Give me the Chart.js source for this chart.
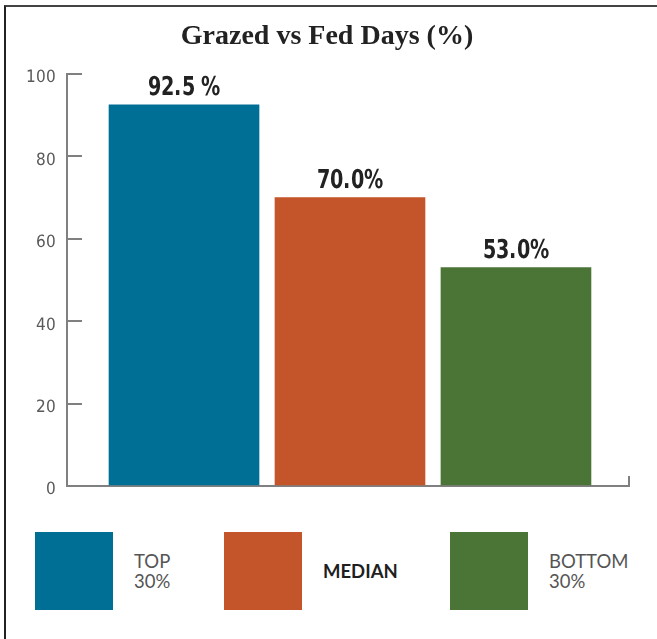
<!DOCTYPE html>
<html>
<head>
<meta charset="utf-8">
<script src="https://cdn.jsdelivr.net/npm/chart.js@4"></script>
<style>
    @font-face {
        font-family: 'NarrowBold';
        src: local('Liberation Sans Narrow Bold'), local('LiberationSansNarrow-Bold'),
             local('DejaVu Sans Condensed Bold'), local('DejaVuSansCondensed-Bold');
    }
    @font-face {
        font-family: 'NarrowReg';
        src: local('Liberation Sans Narrow'), local('LiberationSansNarrow-Regular'),
             local('DejaVu Sans Condensed'), local('DejaVuSansCondensed');
    }
    html, body { margin: 0; padding: 0; background: #fff; }
    body { width: 657px; height: 639px; position: relative; overflow: hidden; }
    .frame {
        position: absolute; left: 4px; top: 5px; right: -10px; bottom: -10px;
        border-top: 2px solid #444; border-left: 2px solid #222;
    }
    #chart { position: absolute; left: 0; top: 0; }
    .legend-item {
        position: absolute; top: 532px; height: 78px;
        display: flex; align-items: center;
        font-family: Lato, sans-serif; font-size: 18.5px; line-height: 20px; color: #555;
    }
    .legend-item .swatch { width: 78px; height: 78px; margin-right: 21px; }
    .legend-item.dark { color: #1f1f1f; font-weight: bold; }
</style>
</head>
<body>
<div class="frame"></div>
<canvas id="chart" width="657" height="530"></canvas>
<div id="legend"></div>
<script>
// Chart data
const categories = ['TOP\n30%', 'MEDIAN', 'BOTTOM\n30%'];
const values = [92.5, 70.0, 53.0];
const valueLabels = ['92.5 %', '70.0%', '53.0%'];
const barColors = ['#006F96', '#C45429', '#4A7536'];
const yTicks = [0, 20, 40, 60, 80, 100];

// legend item positions (px from left)
const legendLefts = [35, 224, 450];

// value labels above the bars (squeezed a bit, the original font is narrow)
const valueLabelPlugin = {
    id: 'valueLabels',
    afterDatasetsDraw(chart) {
        const ctx = chart.ctx;
        const bars = chart.getDatasetMeta(0).data;
        ctx.save();
        ctx.font = '26px NarrowBold, "DejaVu Sans", sans-serif';
        ctx.fillStyle = '#222';
        ctx.textAlign = 'center';
        ctx.textBaseline = 'alphabetic';
        bars.forEach((bar, i) => {
            ctx.save();
            ctx.translate(bar.x, bar.y - 10);
            ctx.scale(0.82, 1);
            ctx.fillText(valueLabels[i], 0, 0);
            ctx.restore();
        });
        ctx.restore();
    }
};

// small upward cap at the right end of the x axis
const axisCapPlugin = {
    id: 'axisCap',
    afterDraw(chart) {
        const x = chart.scales.x;
        const ctx = chart.ctx;
        ctx.save();
        ctx.strokeStyle = '#808080';
        ctx.lineWidth = 2;
        ctx.beginPath();
        ctx.moveTo(x.right, x.top + 1);
        ctx.lineTo(x.right, x.top - 10);
        ctx.stroke();
        ctx.restore();
    }
};

function drawChart() {
    const ctx = document.getElementById('chart').getContext('2d');
    new Chart(ctx, {
        type: 'bar',
        data: {
            datasets: [{
                data: values.map((v, i) => ({ x: i, y: v })),
                backgroundColor: barColors,
                barThickness: 150
            }]
        },
        options: {
            responsive: false,
            animation: false,
            layout: {
                padding: { left: 25, right: 28, top: 0, bottom: 44 }
            },
            plugins: {
                legend: { display: false },
                tooltip: { enabled: false },
                title: {
                    display: true,
                    text: 'Grazed vs Fed Days (%)',
                    color: '#222',
                    font: { family: '"Liberation Serif", serif', size: 28, weight: 'bold' },
                    padding: { top: 20, bottom: 20.4 }
                }
            },
            scales: {
                x: {
                    type: 'linear',
                    offset: false,
                    min: -0.705,
                    max: 2.681,
                    ticks: { display: false },
                    grid: { display: false },
                    border: { display: true, color: '#808080', width: 2 },
                    afterFit(scale) { scale.height = 0; }
                },
                y: {
                    min: 0,
                    max: 100,
                    afterBuildTicks(scale) {
                        scale.ticks = yTicks.map(v => ({ value: v }));
                    },
                    ticks: {
                        color: '#595959',
                        padding: 26,
                        labelOffset: 4,
                        font: { family: 'NarrowReg, "DejaVu Sans", sans-serif', size: 17 }
                    },
                    grid: {
                        drawOnChartArea: false,
                        drawTicks: true,
                        tickLength: -15,
                        color: '#808080',
                        lineWidth: 2
                    },
                    border: { display: true, color: '#808080', width: 2 },
                    afterFit(scale) { scale.width = 42; }
                }
            }
        },
        plugins: [valueLabelPlugin, axisCapPlugin]
    });
}

// HTML legend built from the same arrays
const legendEl = document.getElementById('legend');
categories.forEach((cat, i) => {
    const item = document.createElement('div');
    item.className = 'legend-item' + (cat === 'MEDIAN' ? ' dark' : '');
    item.style.left = legendLefts[i] + 'px';
    item.innerHTML = `<div class="swatch" style="background:${barColors[i]}"></div>
                      <div class="text">${cat.replace('\n', '<br>')}</div>`;
    legendEl.appendChild(item);
});

Promise.all([
    document.fonts.load('26px NarrowBold'),
    document.fonts.load('17px NarrowReg')
]).then(drawChart, drawChart);
</script>
</body>
</html>
